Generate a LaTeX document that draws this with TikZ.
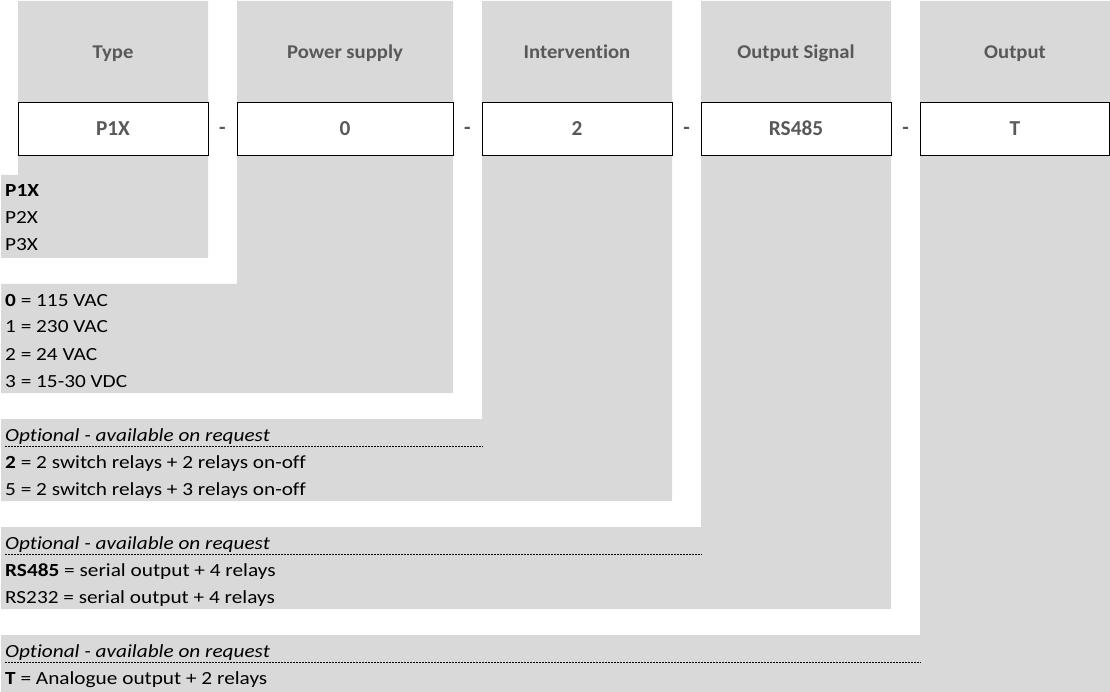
\documentclass[tikz,border=0pt]{standalone}
\usepackage{fontspec}
\setmainfont[Ligatures=NoCommon]{Carlito}
\newfontfamily\bodyfont[FakeStretch=1.15,Ligatures=NoCommon]{Carlito}
\newfontfamily\hdrfont[FakeStretch=1.06,Ligatures=NoCommon]{Carlito}
\definecolor{bandgray}{HTML}{D9D9D9}
\definecolor{hdrtext}{HTML}{595959}
\begin{document}
\begin{tikzpicture}[x=1pt,y=-1pt,
  band/.style={fill=bandgray,draw=none},
  hdr/.style={anchor=base,inner sep=0pt,font=\hdrfont\fontsize{19.5}{22}\selectfont\bfseries,text=hdrtext},
  codebox/.style={anchor=north west,draw=black,line width=1.2pt,fill=white,inner sep=0pt},
  codetext/.style={anchor=base,inner sep=0pt,text=hdrtext,font=\fontsize{21.3}{24}\selectfont\bfseries},
  item/.style={anchor=base west,inner sep=0pt,font=\bodyfont\fontsize{18.5}{22}\selectfont},
  sepline/.style={line width=1pt,dash pattern=on 1.6pt off 1.4pt}]
\useasboundingbox (0,0) rectangle (1110,692);
% gray column shapes
\fill[band] (18,1) -- (208,1) -- (208,258) -- (1,258) -- (1,175) -- (18,175) -- cycle;
\fill[band] (237,1) -- (453,1) -- (453,393) -- (1,393) -- (1,284) -- (237,284) -- cycle;
\fill[band] (482,1) -- (672,1) -- (672,501) -- (1,501) -- (1,419) -- (482,419) -- cycle;
\fill[band] (701,1) -- (891,1) -- (891,609) -- (1,609) -- (1,527) -- (701,527) -- cycle;
\fill[band] (920,1) -- (1110,1) -- (1110,692) -- (1,692) -- (1,635) -- (920,635) -- cycle;
% headers
\node[hdr] (h1) at (113,59) {Type};
\node[hdr] (h2) at (345,59) {Power supply};
\node[hdr] (h3) at (577,59) {Intervention};
\node[hdr] (h4) at (796,59) {Output Signal};
\node[hdr] (h5) at (1015,59) {Output};
% code boxes
\node[codebox,minimum width=190pt,minimum height=53pt] (b1) at (18,102) {};
\node[codebox,minimum width=216pt,minimum height=53pt] (b2) at (237,102) {};
\node[codebox,minimum width=190pt,minimum height=53pt] (b3) at (482,102) {};
\node[codebox,minimum width=190pt,minimum height=53pt] (b4) at (701,102) {};
\node[codebox,minimum width=189pt,minimum height=53pt] (b5) at (920,102) {};
\node[codetext] (c1) at (113,136) {P1X};
\node[codetext] (c2) at (345,136) {0};
\node[codetext] (c3) at (577,136) {2};
\node[codetext] (c4) at (796,136) {RS485};
\node[codetext] (c5) at (1015,136) {T};
\node[codetext] (d1) at (222.5,135) {-};
\node[codetext] (d2) at (467.5,135) {-};
\node[codetext] (d3) at (686.5,135) {-};
\node[codetext] (d4) at (905.5,135) {-};
% column 1
\node[item] (t1) at (5,197) {\textbf{P1X}};
\node[item] (t2) at (5,224) {P2X};
\node[item] (t3) at (5,251) {P3X};
% column 2
\node[item] (p0) at (5,306) {\textbf{0} = 115 VAC};
\node[item] (p1) at (5,333) {1 = 230 VAC};
\node[item] (p2) at (5,360) {2 = 24 VAC};
\node[item] (p3) at (5,387) {3 = 15-30 VDC};
% column 3
\node[item] (o3) at (5,441) {\textit{Optional - available on request}};
\coordinate (s3a) at (5,446); \coordinate (s3b) at (483,446);
\draw[sepline] (s3a) -- (s3b);
\node[item] (i2) at (5,468) {\textbf{2} = 2 switch relays + 2 relays on-off};
\node[item] (i5) at (5,495) {5 = 2 switch relays + 3 relays on-off};
% column 4
\node[item] (o4) at (5,549) {\textit{Optional - available on request}};
\coordinate (s4a) at (5,554); \coordinate (s4b) at (702,554);
\draw[sepline] (s4a) -- (s4b);
\node[item] (r1) at (5,576) {\textbf{RS485} = serial output + 4 relays};
\node[item] (r2) at (5,603) {RS232 = serial output + 4 relays};
% column 5
\node[item] (o5) at (5,657) {\textit{Optional - available on request}};
\coordinate (s5a) at (5,662); \coordinate (s5b) at (921,662);
\draw[sepline] (s5a) -- (s5b);
\node[item] (a1) at (5,684) {\textbf{T} = Analogue output + 2 relays};
\end{tikzpicture}
\end{document}
